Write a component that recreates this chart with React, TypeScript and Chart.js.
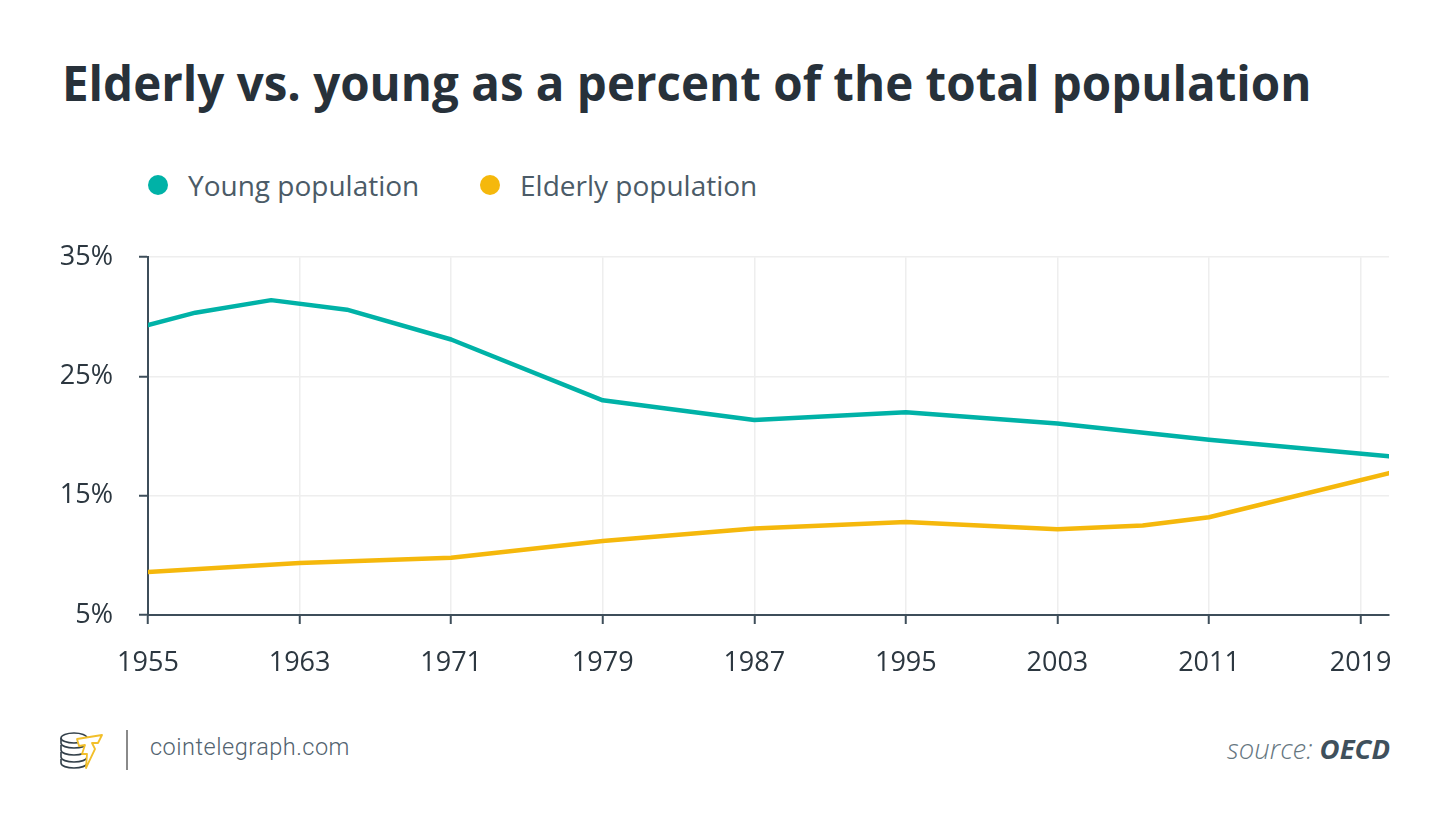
import React, { useEffect, useRef } from "react";
import { Chart, registerables } from "chart.js";

Chart.register(...registerables);

const titleText = "Elderly vs. young as a percent of the total population";
const seriesNames = ["Young population", "Elderly population"];
const seriesColors = ["#00b2a7", "#f5b80c"];

const youngYears = [1955, 1957.5, 1961.5, 1965.5, 1971, 1979, 1987, 1995, 2003, 2011, 2020.5];
const youngValues = [29.3, 30.35, 31.4, 30.6, 28.1, 23.0, 21.35, 22.0, 21.05, 19.7, 18.3];

const elderlyYears = [1955, 1963, 1971, 1979, 1987, 1995, 2003, 2007.5, 2011, 2020.5];
const elderlyValues = [8.6, 9.35, 9.8, 11.2, 12.25, 12.8, 12.2, 12.5, 13.2, 16.9];

const xTickYears = [1955, 1963, 1971, 1979, 1987, 1995, 2003, 2011, 2019];
const yTickValues = [5, 15, 25, 35];

const axisColor = "#3e4e5a";
const gridColor = "#eeeeee";
const tickTextColor = "#2c3740";

export default function App() {
  const canvasRef = useRef<HTMLCanvasElement | null>(null);

  useEffect(() => {
    document.body.style.margin = "0";
    const canvas = canvasRef.current;
    if (!canvas) return;
    const chart = new Chart(canvas, {
      type: "line",
      data: {
        datasets: [
          {
            label: seriesNames[0],
            data: youngYears.map((x, i) => ({ x, y: youngValues[i] })),
            borderColor: seriesColors[0],
            backgroundColor: seriesColors[0],
            borderWidth: 4.5,
            pointRadius: 0,
            borderCapStyle: "round",
            borderJoinStyle: "round",
            tension: 0,
          },
          {
            label: seriesNames[1],
            data: elderlyYears.map((x, i) => ({ x, y: elderlyValues[i] })),
            borderColor: seriesColors[1],
            backgroundColor: seriesColors[1],
            borderWidth: 4.5,
            pointRadius: 0,
            borderCapStyle: "round",
            borderJoinStyle: "round",
            tension: 0,
          },
        ],
      },
      options: {
        animation: false,
        responsive: false,
        devicePixelRatio: 1,
        layout: { padding: { left: 0, right: 61, top: 11, bottom: 0 } },
        plugins: {
          legend: { display: false },
          tooltip: { enabled: false },
        },
        scales: {
          x: {
            type: "linear",
            min: 1955,
            max: 2020.5,
            afterBuildTicks: (scale: any) => {
              scale.ticks = xTickYears.map((v) => ({ value: v }));
            },
            afterFit: (scale: any) => {
              scale.height = 75;
            },
            grid: {
              color: gridColor,
              lineWidth: 1.5,
              drawTicks: true,
              tickLength: 9,
              tickColor: axisColor,
              tickWidth: 2,
            },
            border: { color: axisColor, width: 2 },
            ticks: {
              autoSkip: false,
              maxRotation: 0,
              padding: 23,
              color: tickTextColor,
              font: { family: "'Open Sans'", size: 27 },
              callback: (v: any) => String(v),
            },
          },
          y: {
            type: "linear",
            min: 5,
            max: 35,
            afterBuildTicks: (scale: any) => {
              scale.ticks = yTickValues.map((v) => ({ value: v }));
            },
            afterFit: (scale: any) => {
              scale.width = 148;
            },
            grid: {
              color: gridColor,
              lineWidth: 1.5,
              drawTicks: true,
              tickLength: 9,
              tickColor: axisColor,
              tickWidth: 2,
            },
            border: { color: axisColor, width: 2 },
            ticks: {
              padding: 26,
              color: tickTextColor,
              font: { family: "'Open Sans'", size: 27 },
              callback: (v: any) => `${v}%`,
            },
          },
        },
      },
    });
    return () => chart.destroy();
  }, []);

  const font = "'Open Sans', sans-serif";

  return (
    <div style={{ position: "relative", width: 1450, height: 830, background: "#fff", overflow: "hidden", fontFamily: font }}>
      <div
        style={{
          position: "absolute",
          left: 62,
          top: 56,
          fontSize: 47.5,
          lineHeight: "54px",
          fontWeight: 700,
          color: "#27313a",
          whiteSpace: "nowrap",
        }}
      >
        {titleText}
      </div>

      {seriesNames.map((name, i) => (
        <div
          key={name}
          style={{
            position: "absolute",
            left: i === 0 ? 148 : 480,
            top: 168,
            height: 34,
            display: "flex",
            alignItems: "center",
            whiteSpace: "nowrap",
          }}
        >
          <span
            style={{
              display: "inline-block",
              width: 20,
              height: 20,
              borderRadius: 10,
              background: seriesColors[i],
              marginRight: 20,
            }}
          />
          <span style={{ fontSize: 28, color: "#4b5b67" }}>{name}</span>
        </div>
      ))}

      <canvas
        ref={canvasRef}
        width={1450}
        height={475}
        style={{ position: "absolute", left: 0, top: 215, width: 1450, height: 475 }}
      />

      <svg
        width={50}
        height={42}
        viewBox="0 0 50 42"
        style={{ position: "absolute", left: 58, top: 729 }}
      >
        <g fill="#fff" stroke="#33404a" strokeWidth={1.6}>
          <path d="M3 30 v4 c0 3 6 5 13 5 s13 -2 13 -5 v-4" />
          <path d="M3 23 v5 c0 3 6 5 13 5 s13 -2 13 -5 v-5" />
          <path d="M3 16 v5 c0 3 6 5 13 5 s13 -2 13 -5 v-5" />
          <path d="M3 9 v5 c0 3 6 5 13 5 s13 -2 13 -5 v-5" />
          <ellipse cx={16} cy={9} rx={13} ry={5} />
        </g>
        <path
          d="M19 10 L44 6 L40 14 L34 14 L37 20 L28 39 L29 25 L24 25 L27 16 L21 17 Z"
          fill="#fff"
          stroke="#f2bf2a"
          strokeWidth={1.8}
          strokeLinejoin="round"
        />
      </svg>
      <div style={{ position: "absolute", left: 126, top: 730, width: 2, height: 40, background: "#8a8a8a" }} />
      <div
        style={{
          position: "absolute",
          left: 150,
          top: 732,
          fontSize: 23.5,
          lineHeight: "30px",
          fontFamily: "Roboto, 'Open Sans', sans-serif",
          fontWeight: 300,
          color: "#52636f",
          letterSpacing: 0.5,
        }}
      >
        cointelegraph.com
      </div>
      <div
        style={{
          position: "absolute",
          right: 1450 - 1390,
          top: 731,
          fontSize: 27.5,
          lineHeight: "36px",
          fontStyle: "italic",
          whiteSpace: "nowrap",
        }}
      >
        <span style={{ fontWeight: 300, color: "#66767f" }}>source: </span>
        <span style={{ fontWeight: 700, color: "#3f505c" }}>OECD</span>
      </div>
    </div>
  );
}
